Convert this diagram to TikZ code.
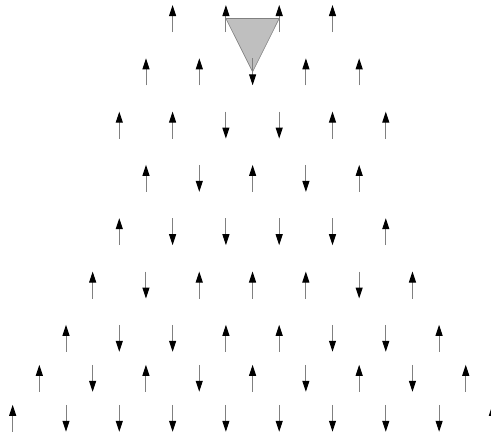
\documentclass[tikz,border=0pt]{standalone}
\usetikzlibrary{arrows.meta}
\begin{document}
\begin{tikzpicture}[x=1pt,y=-1pt,
  spin/.style={draw=black!50, line width=1pt, -{Triangle[length=11pt,width=7pt,color=black]}},
  plaquette/.style={fill=black!25, draw=black!50, line width=0.6pt}]
\useasboundingbox (0,0) rectangle (491,434);
% triangle plaquette corners (lattice sites)
\coordinate (pa) at (225.9,18.5);
\coordinate (pb) at (279.2,18.5);
\coordinate (pc) at (252.6,71.8);
\path[plaquette] (pa) -- (pb) -- (pc) -- cycle;
% spins: row / y / first x / list of spins (1 = up, -1 = down)
\foreach \r/\yy/\xs/\spins in {
  0/18.5/172.6/{1,1,1,1},
  1/71.8/146.0/{1,1,-1,1,1},
  2/125.1/119.3/{1,1,-1,-1,1,1},
  3/178.4/146.0/{1,-1,1,-1,1},
  4/231.7/119.3/{1,-1,-1,-1,-1,1},
  5/285.0/92.65/{1,-1,1,1,1,-1,1},
  6/338.3/66.0/{1,-1,-1,1,1,-1,-1,1},
  7/378.3/39.35/{1,-1,1,-1,1,-1,1,-1,1},
  8/418.3/12.7/{1,-1,-1,-1,-1,-1,-1,-1,-1,1}}{
  \foreach \s [count=\i from 0] in \spins {
    \coordinate (t\r-\i) at ({\xs+53.3*\i},{\yy+13.5*\s});
    \coordinate (h\r-\i) at ({\xs+53.3*\i},{\yy-13.5*\s});
    \draw[spin] (t\r-\i) -- (h\r-\i);
  }
}
\end{tikzpicture}
\end{document}
